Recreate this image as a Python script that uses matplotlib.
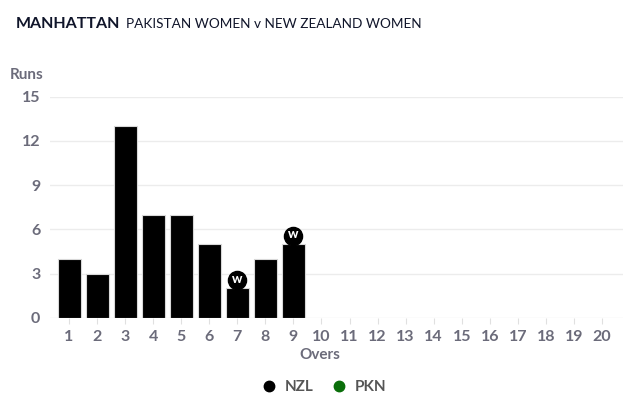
import matplotlib
matplotlib.use("Agg")
import matplotlib.pyplot as plt

plt.rcParams['font.family'] = ['Lato', 'DejaVu Sans']

# data
overs = [1, 2, 3, 4, 5, 6, 7, 8, 9]
nzl_runs = [4, 3, 13, 7, 7, 5, 2, 4, 5]
wicket_overs = [7, 9]
all_overs = list(range(1, 21))
y_ticks = [0, 3, 6, 9, 12, 15]
teams = ['NZL', 'PKN']
team_colors = ['#000000', '#0a6e0a']

grey = '#6b6b7a'

fig = plt.figure(figsize=(6.4, 4.07), dpi=100)
ax = fig.add_axes([50 / 640, 1 - 317.7 / 407, 573 / 640, 221 / 407])

ax.bar(overs, nzl_runs, width=0.82, color='black', edgecolor='#d8d8d8',
       linewidth=0.8, zorder=3)

for w in wicket_overs:
    v = nzl_runs[overs.index(w)]
    ax.scatter([w], [v + 0.55], s=170, color='black', zorder=5, clip_on=False)
    ax.text(w, v + 0.55, 'W', color='white', fontsize=7, fontweight='heavy',
            ha='center', va='center', zorder=6)

ax.set_xlim(0.32, 20.75)
ax.set_ylim(0, 15)
ax.set_xticks(all_overs)
ax.set_yticks(y_ticks)
ax.tick_params(axis='x', length=4, color='#e0e0e0', labelsize=11.5,
               labelcolor=grey, pad=5)
ax.tick_params(axis='y', length=0, labelsize=11.5, labelcolor=grey, pad=7)
for lab in ax.get_xticklabels() + ax.get_yticklabels():
    lab.set_fontweight('bold')

ax.grid(axis='y', color='#ececec', linewidth=1, zorder=0)
for s in ax.spines.values():
    s.set_visible(False)

fig.text(16 / 640, 1 - 24 / 407, 'MANHATTAN', fontsize=11.5, fontweight='bold',
         color='#10152a', va='center')
fig.text(126 / 640, 1 - 24 / 407, 'PAKISTAN WOMEN v NEW ZEALAND WOMEN',
         fontsize=9.8, color='#10152a', va='center')
fig.text(10 / 640, 1 - 75 / 407, 'Runs', fontsize=11, fontweight='bold',
         color=grey, va='center')
fig.text(320 / 640, 1 - 355 / 407, 'Overs', fontsize=11, fontweight='bold',
         color=grey, va='center', ha='center')

# legend
handles = [plt.Line2D([], [], marker='o', linestyle='', color=c, markersize=7.5)
           for c in team_colors]
leg = fig.legend(handles, teams, loc='center', bbox_to_anchor=(320 / 640, 1 - 387 / 407),
                 ncol=2, frameon=False, handletextpad=0.0, columnspacing=0.7,
                 prop={'weight': 'bold', 'size': 11})
for t in leg.get_texts():
    t.set_color('#555555')

fig.savefig('out.png', dpi=100)
